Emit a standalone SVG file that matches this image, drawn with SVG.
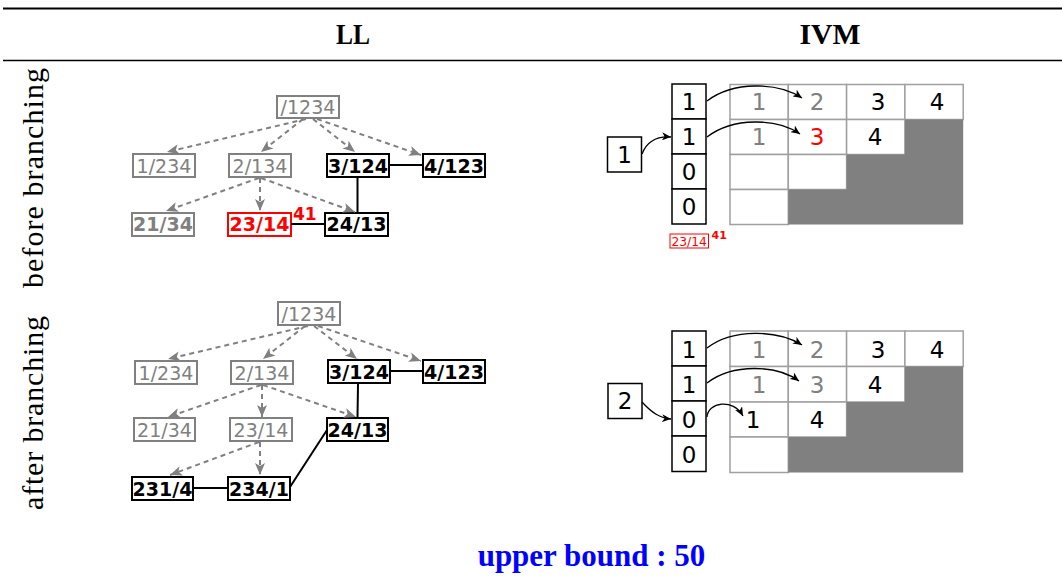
<svg xmlns="http://www.w3.org/2000/svg" width="1062" height="581" viewBox="0 0 1062 581">
<style>
.hdr{font-family:"Liberation Serif",serif;font-weight:bold;font-size:29px;text-anchor:middle;fill:#000}
.side{font-family:"Liberation Serif",serif;font-size:30px;fill:#000}
.ub{font-family:"Liberation Serif",serif;font-weight:bold;font-size:31px;fill:#0000ff;text-anchor:middle}
.nt{font-family:"DejaVu Sans",sans-serif;font-size:19px;text-anchor:middle}
.g{fill:#808080}
.b{font-weight:bold}
.k{fill:#000}
.r{fill:#ff0000}
.gbox{fill:#fff;stroke:#808080;stroke-width:2}
.kbox{fill:#fff;stroke:#000;stroke-width:2}
.rbox{fill:#fff;stroke:#ff0000;stroke-width:2}
.dash{fill:none;stroke:#808080;stroke-width:2;stroke-dasharray:5 4;marker-end:url(#ga)}
.sol{fill:none;stroke:#000;stroke-width:2}
.cur{fill:none;stroke:#000;stroke-width:1.3;marker-end:url(#ka)}
.cell{fill:#fff;stroke:#a0a0a0;stroke-width:1.5}
.col{fill:#fff;stroke:#000;stroke-width:1.5}
.shade{fill:#808080}
.dg{font-family:"DejaVu Sans",sans-serif;font-size:23px;text-anchor:middle}
</style>
<defs>
<marker id="ga" viewBox="0 0 12 10" refX="12" refY="5" markerWidth="12" markerHeight="10" markerUnits="userSpaceOnUse" orient="auto">
<path d="M0,0 L12,5 L0,10 L3,5 z" fill="#808080"/>
</marker>
<marker id="ka" viewBox="0 0 9 8" refX="9" refY="4" markerWidth="9" markerHeight="8" markerUnits="userSpaceOnUse" orient="auto">
<path d="M0,0 L9,4 L0,8 L2.5,4 z" fill="#000"/>
</marker>
</defs>
<rect width="1062" height="581" fill="#fff"/>

<g id="header">
<line x1="3" y1="8.5" x2="1062" y2="8.5" stroke="#000" stroke-width="2"/>
<line x1="3" y1="60.5" x2="1062" y2="60.5" stroke="#000" stroke-width="1.3"/>
<text class="hdr" x="353" y="44" textLength="34" lengthAdjust="spacingAndGlyphs">LL</text>
<text class="hdr" x="830" y="44" textLength="61" lengthAdjust="spacingAndGlyphs">IVM</text>
</g>

<g id="side-labels">
<text class="side" transform="translate(43,288) rotate(-90)" textLength="220">before branching</text>
<text class="side" transform="translate(43,510) rotate(-90)" textLength="194">after branching</text>
</g>

<!-- LL before -->
<g id="b-root"><rect class="gbox" x="277" y="96" width="62" height="22"/><text class="nt g" x="308" y="114">/1234</text></g>
<g id="b-1-234"><rect class="gbox" x="133" y="154" width="62" height="23"/><text class="nt g" x="164" y="172.5">1/234</text></g>
<g id="b-2-134"><rect class="gbox" x="229" y="154" width="62" height="23"/><text class="nt g" x="260" y="172.5">2/134</text></g>
<g id="b-3-124"><rect class="kbox" x="327" y="154" width="62" height="23"/><text class="nt b k" x="358" y="172.5">3/124</text></g>
<g id="b-4-123"><rect class="kbox" x="423" y="154" width="62" height="23"/><text class="nt b k" x="454" y="172.5">4/123</text></g>
<g id="b-21-34"><rect class="gbox" x="132" y="213" width="62" height="23"/><text class="nt b g" x="163" y="231">21/34</text></g>
<g id="b-23-14"><rect class="rbox" x="228" y="213" width="63" height="23"/><text class="nt b r" x="259.5" y="231">23/14</text></g>
<g id="b-24-13"><rect class="kbox" x="325" y="213" width="63" height="23"/><text class="nt b k" x="356.5" y="231">24/13</text></g>
<text class="r b" x="293" y="220" font-family="DejaVu Sans, sans-serif" font-size="17">41</text>

<!-- LL after -->
<g id="a-root"><rect class="gbox" x="278" y="302" width="62" height="23"/><text class="nt g" x="309" y="320.5">/1234</text></g>
<g id="a-1-234"><rect class="gbox" x="135" y="361" width="62" height="23"/><text class="nt g" x="166" y="379.5">1/234</text></g>
<g id="a-2-134"><rect class="gbox" x="231" y="361" width="62" height="23"/><text class="nt g" x="262" y="379.5">2/134</text></g>
<g id="a-3-124"><rect class="kbox" x="328" y="360" width="62" height="23"/><text class="nt b k" x="359" y="378.5">3/124</text></g>
<g id="a-4-123"><rect class="kbox" x="423" y="360" width="62" height="23"/><text class="nt b k" x="454" y="378.5">4/123</text></g>
<g id="a-21-34"><rect class="gbox" x="134" y="418" width="61" height="23"/><text class="nt g" x="164.5" y="436.5">21/34</text></g>
<g id="a-23-14"><rect class="gbox" x="230" y="418" width="62" height="23"/><text class="nt g" x="261" y="436.5">23/14</text></g>
<g id="a-24-13"><rect class="kbox" x="327" y="418" width="61" height="23"/><text class="nt b k" x="357.5" y="436.5">24/13</text></g>
<g id="a-231-4"><rect class="kbox" x="132" y="477" width="61" height="23"/><text class="nt b k" x="162.5" y="495.5">231/4</text></g>
<g id="a-234-1"><rect class="kbox" x="228" y="477" width="62" height="23"/><text class="nt b k" x="259" y="495.5">234/1</text></g>

<!-- IVM before -->
<g id="ivm-b-grid">
<rect class="cell" x="730" y="84.5" width="58.3" height="35"/>
<rect class="cell" x="788.3" y="84.5" width="58.3" height="35"/>
<rect class="cell" x="846.6" y="84.5" width="58.3" height="35"/>
<rect class="cell" x="904.9" y="84.5" width="58.3" height="35"/>
<rect class="cell" x="730" y="119.5" width="58.3" height="35"/>
<rect class="cell" x="788.3" y="119.5" width="58.3" height="35"/>
<rect class="cell" x="846.6" y="119.5" width="58.3" height="35"/>
<rect class="cell" x="730" y="154.5" width="58.3" height="35"/>
<rect class="cell" x="788.3" y="154.5" width="58.3" height="35"/>
<rect class="cell" x="730" y="189.5" width="58.3" height="35"/>
<path class="shade" d="M904.9,119.5 H963.2 V224.5 H788.3 V189.5 H846.6 V154.5 H904.9 Z"/>
<text class="dg g" x="759" y="110">1</text>
<text class="dg g" x="817" y="110">2</text>
<text class="dg k" x="878" y="110">3</text>
<text class="dg k" x="937" y="110">4</text>
<text class="dg g" x="759" y="145">1</text>
<text class="dg r" x="817" y="145">3</text>
<text class="dg k" x="875" y="145">4</text>
</g>
<g id="ivm-b-col">
<rect class="col" x="672" y="84" width="34" height="35"/>
<rect class="col" x="672" y="119" width="34" height="35"/>
<rect class="col" x="672" y="154" width="34" height="35"/>
<rect class="col" x="672" y="189" width="34" height="35"/>
<text class="dg k" x="689" y="110">1</text>
<text class="dg k" x="689" y="145">1</text>
<text class="dg k" x="689" y="180">0</text>
<text class="dg k" x="689" y="215">0</text>
</g>
<g id="ivm-b-depth"><rect class="col" x="607.5" y="137" width="34" height="35"/><text class="dg k" x="624.5" y="163">1</text></g>
<g id="ivm-b-note">
<rect x="670" y="234" width="38.5" height="14" fill="#fff" stroke="#ff0000" stroke-width="1"/>
<text x="689.2" y="246" font-family="DejaVu Sans, sans-serif" font-size="12.3" text-anchor="middle" fill="#ff0000">23/14</text>
<text x="711.5" y="239" font-family="DejaVu Sans, sans-serif" font-size="11" font-weight="bold" fill="#ff0000">41</text>
</g>

<!-- IVM after -->
<g id="ivm-a-grid">
<rect class="cell" x="730" y="331" width="58.3" height="35.5"/>
<rect class="cell" x="788.3" y="331" width="58.3" height="35.5"/>
<rect class="cell" x="846.6" y="331" width="58.3" height="35.5"/>
<rect class="cell" x="904.9" y="331" width="58.3" height="35.5"/>
<rect class="cell" x="730" y="366.5" width="58.3" height="35.5"/>
<rect class="cell" x="788.3" y="366.5" width="58.3" height="35.5"/>
<rect class="cell" x="846.6" y="366.5" width="58.3" height="35.5"/>
<rect class="cell" x="730" y="402" width="58.3" height="35"/>
<rect class="cell" x="788.3" y="402" width="58.3" height="35"/>
<rect class="cell" x="730" y="437" width="58.3" height="35.5"/>
<path class="shade" d="M904.9,366.5 H963.2 V472.5 H788.3 V437 H846.6 V402 H904.9 Z"/>
<text class="dg g" x="759" y="358">1</text>
<text class="dg g" x="817" y="358">2</text>
<text class="dg k" x="878" y="358">3</text>
<text class="dg k" x="937" y="358">4</text>
<text class="dg g" x="759" y="393">1</text>
<text class="dg g" x="817" y="393">3</text>
<text class="dg k" x="875" y="393">4</text>
<text class="dg k" x="753" y="428">1</text>
<text class="dg k" x="817" y="428">4</text>
</g>
<g id="ivm-a-col">
<rect class="col" x="672" y="331" width="34" height="35"/>
<rect class="col" x="672" y="366" width="34" height="35"/>
<rect class="col" x="672" y="401" width="34" height="35"/>
<rect class="col" x="672" y="436" width="34" height="35.5"/>
<text class="dg k" x="689" y="358">1</text>
<text class="dg k" x="689" y="393">1</text>
<text class="dg k" x="689" y="428">0</text>
<text class="dg k" x="689" y="463">0</text>
</g>
<g id="ivm-a-depth"><rect class="col" x="608" y="383.5" width="34" height="35"/><text class="dg k" x="625" y="409">2</text></g>

<text class="ub" x="591.5" y="566">upper bound : 50</text>

<!-- connectors -->
<g id="connectors">
<path class="dash" d="M306,119 L167,152"/>
<path class="dash" d="M303,119 L261,152"/>
<path class="dash" d="M313,119 L355,152"/>
<path class="dash" d="M317,119 L421,155"/>
<path class="dash" d="M259,178 L166,211"/>
<path class="dash" d="M260,178 L260,211"/>
<path class="dash" d="M261,178 L355,212"/>
<line class="sol" x1="389" y1="165" x2="423" y2="165"/>
<line class="sol" x1="357.5" y1="177" x2="357.5" y2="212"/>
<line class="sol" x1="291" y1="224" x2="325" y2="224"/>

<path class="dash" d="M308,326 L168,359"/>
<path class="dash" d="M305,326 L263,359"/>
<path class="dash" d="M314,326 L357,359"/>
<path class="dash" d="M318,326 L421,361"/>
<path class="dash" d="M261,385 L168,417"/>
<path class="dash" d="M262,385 L262,417"/>
<path class="dash" d="M263,385 L356,417"/>
<path class="dash" d="M259,442 L170,475"/>
<path class="dash" d="M260,442 L260,475"/>
<line class="sol" x1="390" y1="371" x2="423" y2="371"/>
<line class="sol" x1="358" y1="384" x2="357.5" y2="417"/>
<line class="sol" x1="193" y1="488" x2="228" y2="488"/>
<line class="sol" x1="290" y1="487" x2="327" y2="430"/>

<path class="cur" d="M707,101 C733,81 778,82 802,98"/>
<path class="cur" d="M707,137 C733,117 777,118 800,134"/>
<path class="cur" d="M642,154 C647,141 657,136 671,137"/>

<path class="cur" d="M707,348 C733,328 778,330 802,345"/>
<path class="cur" d="M707,383 C733,363 777,365 799,381"/>
<path class="cur" d="M707,417 C708,402 733,398 743,416"/>
<path class="cur" d="M642,402 C652,413 660,418 671,419"/>
</g>
</svg>
